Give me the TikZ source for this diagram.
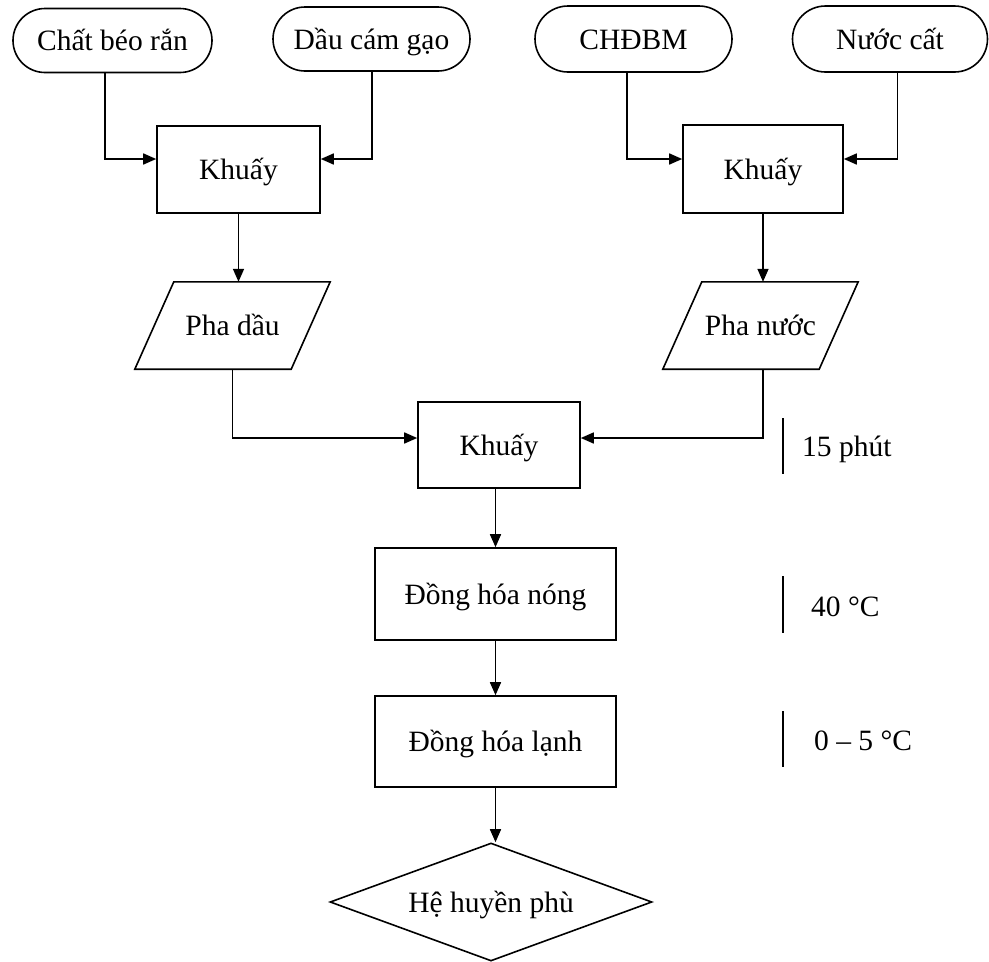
\documentclass[tikz,border=0pt]{standalone}
\usepackage{fontspec}
\setmainfont{Liberation Serif}
\usetikzlibrary{arrows.meta,shapes.geometric}
\begin{document}
\begin{tikzpicture}[x=1pt,y=-1pt,
  every node/.style={font=\fontsize{29.5}{34}\selectfont, inner sep=0pt, text height=23pt, text depth=3pt},
  lw/.style={line width=1.6pt},
  term/.style={draw, lw, rounded corners=32pt, minimum height=64pt},
  proc/.style={draw, lw, rectangle},
  para/.style={rectangle, minimum width=156pt, minimum height=87pt},
  arr/.style={lw, -{Triangle[length=13pt,width=11pt]}}]
\useasboundingbox (0,0) rectangle (989,962);

% inputs
\node[term, minimum width=199pt] (t1) at (112.5,40.5) {Chất béo rắn};
\node[term, minimum width=197pt] (t2) at (371.5,39) {Dầu cám gạo};
\node[term, minimum width=197pt, minimum height=66pt, rounded corners=33pt] (t3) at (633.5,39) {CHĐBM};
\node[term, minimum width=195pt, minimum height=66pt, rounded corners=33pt] (t4) at (890,39) {Nước cất};

% stirring
\node[proc, minimum width=163pt, minimum height=87pt] (k1) at (238.5,169.5) {Khuấy};
\node[proc, minimum width=160pt, minimum height=88pt] (k2) at (763,169) {Khuấy};

% phases
\node[para] (pd) at (232.5,325.5) {Pha dầu};
\draw[lw] ([xshift=19.5pt]pd.north west) -- ([xshift=19.5pt]pd.north east)
  -- ([xshift=-19.5pt]pd.south east) -- ([xshift=-19.5pt]pd.south west) -- cycle;
\node[para] (pn) at (760.5,325.5) {Pha nước};
\draw[lw] ([xshift=19.5pt]pn.north west) -- ([xshift=19.5pt]pn.north east)
  -- ([xshift=-19.5pt]pn.south east) -- ([xshift=-19.5pt]pn.south west) -- cycle;

% mixing and homogenisation
\node[proc, minimum width=162pt, minimum height=86pt] (k3) at (499,445) {Khuấy};
\node[proc, minimum width=241pt, minimum height=92pt] (dn) at (495.5,594) {Đồng hóa nóng};
\node[proc, minimum width=241pt, minimum height=91pt] (dl) at (495.5,741.5) {Đồng hóa lạnh};
\node[draw, lw, diamond, aspect=2.7, minimum width=322pt, minimum height=118pt] (dia) at (491,902) {Hệ huyền phù};

% side conditions
\draw[lw] (783,418) -- (783,474);
\node[anchor=west] (c1) at (802,446) {15 phút};
\draw[lw] (783,576) -- (783,633);
\node[anchor=west] (c2) at (811,606) {40 °C};
\draw[lw] (783,711) -- (783,767);
\node[anchor=west] (c3) at (814,740) {0 – 5 °C};

% connectors
\draw[arr] ([xshift=-7.5pt]t1.south) |- ([yshift=10.5pt]k1.west);
\draw[arr] ([xshift=0.5pt]t2.south) |- ([yshift=10.5pt]k1.east);
\draw[arr] ([xshift=-6.5pt]t3.south) |- ([yshift=10pt]k2.west);
\draw[arr] ([xshift=7.5pt]t4.south) |- ([yshift=10pt]k2.east);
\draw[arr] (k1.south) -- (k1.south |- pd.north);
\draw[arr] (k2.south) -- (k2.south |- pn.north);
\draw[arr] (pd.south) |- ([yshift=7pt]k3.west);
\draw[arr] ([xshift=2.5pt]pn.south) |- ([yshift=7pt]k3.east);
\draw[arr] (dn.north |- k3.south) -- (dn.north);
\draw[arr] (dn.south) -- (dl.north);
\draw[arr] (dl.south) -- (dl.south |- dia.north);
\end{tikzpicture}
\end{document}
